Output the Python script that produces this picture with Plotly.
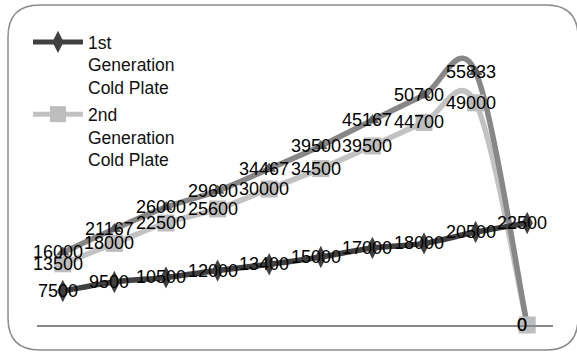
import plotly.graph_objects as go

categories = [1, 2, 3, 4, 5, 6, 7, 8, 9, 10]
name1 = "1st<br>Generation<br>Cold Plate"
name2 = "2nd<br>Generation<br>Cold Plate"
name3 = "3rd Generation Cold Plate"
gen1 = [7500, 9500, 10500, 12000, 13400, 15000, 17000, 18000, 20500, 22500]
gen2 = [13500, 18000, 22500, 25600, 30000, 34500, 39500, 44700, 49000, 0]
gen3 = [16000, 21167, 26000, 29600, 34467, 39500, 45167, 50700, 55833, 0]

W, H = 577, 352
FONT = "Liberation Sans, Arial, Helvetica, sans-serif"

C1 = "#404040"
C2_LINE, C2_MARK = "#c2c2c2", "#bdbdbd"
C3_LINE, C3_MARK = "#878787", "#5e5e5e"


def px(x):
    return x / W


def py(y):
    return 1 - y / H


def smooth_path(xs, ys):
    """Excel-style smoothed line (uniform Catmull-Rom as cubic Bezier), in data coords."""
    n = len(xs)
    pts = list(zip(xs, ys))
    d = f"M {pts[0][0]},{pts[0][1]}"
    for i in range(n - 1):
        p0 = pts[i - 1] if i > 0 else pts[i]
        p1 = pts[i]
        p2 = pts[i + 1]
        p3 = pts[i + 2] if i + 2 < n else pts[i + 1]
        c1 = (p1[0] + (p2[0] - p0[0]) / 6, p1[1] + (p2[1] - p0[1]) / 6)
        c2 = (p2[0] - (p3[0] - p1[0]) / 6, p2[1] - (p3[1] - p1[1]) / 6)
        d += f" C {c1[0]},{c1[1]} {c2[0]},{c2[1]} {p2[0]},{p2[1]}"
    return d


fig = go.Figure()

# markers (lines drawn as smoothed paths underneath)
fig.add_trace(go.Scatter(x=categories, y=gen3, mode="markers", name=name3, showlegend=False,
                         marker=dict(symbol="triangle-up", size=12, color=C3_MARK), cliponaxis=False))
fig.add_trace(go.Scatter(x=categories, y=gen2, mode="markers", name=name2, showlegend=False,
                         marker=dict(symbol="square", size=17, color=C2_MARK), cliponaxis=False))
fig.add_trace(go.Scatter(x=categories, y=gen1, mode="markers", name=name1, showlegend=False,
                         marker=dict(symbol="diamond-tall", size=16, color=C1), cliponaxis=False))

# legend entries
fig.add_trace(go.Scatter(x=[None], y=[None], mode="lines+markers", name=name1, legendgroup="g1",
                         line=dict(color=C1, width=5),
                         marker=dict(symbol="diamond-tall", size=16, color=C1)))
fig.add_trace(go.Scatter(x=[None], y=[None], mode="lines+markers", name=name2, legendgroup="g2",
                         line=dict(color=C2_LINE, width=5),
                         marker=dict(symbol="square", size=16, color=C2_MARK)))

annotations = []
for vals in (gen3, gen2, gen1):
    for c, v in zip(categories, vals):
        annotations.append(dict(
            x=c, y=v, xref="x", yref="y", text=str(v), showarrow=False,
            xshift=-5, font=dict(family=FONT, size=18, color="#000000"),
        ))

shapes = []
for vals, col in ((gen2, C2_LINE), (gen3, C3_LINE), (gen1, C1)):
    shapes.append(dict(type="path", path=smooth_path(categories, vals), xref="x", yref="y",
                       line=dict(color=col, width=5.5), layer="below"))

# rounded border
x0, x1, y0, y1, r = 8, 578, 5, 350, 32
path = (
    f"M {px(x0+r)},{py(y0)} L {px(x1-r)},{py(y0)} Q {px(x1)},{py(y0)} {px(x1)},{py(y0+r)} "
    f"L {px(x1)},{py(y1-r)} Q {px(x1)},{py(y1)} {px(x1-r)},{py(y1)} "
    f"L {px(x0+r)},{py(y1)} Q {px(x0)},{py(y1)} {px(x0)},{py(y1-r)} "
    f"L {px(x0)},{py(y0+r)} Q {px(x0)},{py(y0)} {px(x0+r)},{py(y0)} Z"
)
shapes.append(dict(type="path", path=path, xref="paper", yref="paper",
                   line=dict(color="#8c8c8c", width=1.5), layer="above"))

fig.update_layout(
    width=W, height=H,
    margin=dict(l=0, r=0, t=0, b=0),
    paper_bgcolor="white", plot_bgcolor="white",
    font=dict(family=FONT, size=18, color="#000000"),
    showlegend=True,
    legend=dict(
        x=px(28), y=py(24), xanchor="left", yanchor="top",
        traceorder="grouped", valign="top", itemwidth=50, tracegroupgap=1,
        bgcolor="rgba(0,0,0,0)", font=dict(family=FONT, size=17.5, color="#111111"),
    ),
    xaxis=dict(
        domain=[px(37), px(553)], range=[0.5, 10.5],
        showline=True, linecolor="#8a8a8a", linewidth=2,
        showgrid=False, zeroline=False, showticklabels=False, ticks="",
    ),
    yaxis=dict(
        domain=[py(325), py(53)], range=[0, 60000], visible=False,
        showgrid=False, zeroline=False,
    ),
    annotations=annotations,
    shapes=shapes,
)

fig.write_html("out.html", config={"displayModeBar": False},
               post_script="document.body.style.margin='0px';")
